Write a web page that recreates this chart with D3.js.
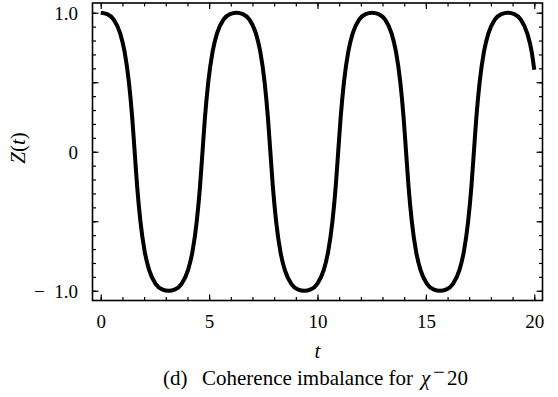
<!DOCTYPE html>
<html>
<head>
<meta charset="utf-8">
<script src="https://cdn.jsdelivr.net/npm/d3@7"></script>
</head>
<body style="margin:0;background:#fff">
<script>
// Time samples of the coherence imbalance curve
const tValues = [
  0, 0.3, 0.6, 0.9, 1.1, 1.3, 1.45, 1.565, 1.68, 1.83, 2.03, 2.23, 2.53, 2.83, 3.13,
  3.43, 3.73, 4.03, 4.23, 4.43, 4.58, 4.695, 4.81, 4.96, 5.16, 5.36, 5.66, 5.96, 6.26,
  6.56, 6.86, 7.16, 7.36, 7.56, 7.71, 7.825, 7.94, 8.09, 8.29, 8.49, 8.79, 9.09, 9.39,
  9.69, 9.99, 10.29, 10.49, 10.69, 10.84, 10.955, 11.07, 11.22, 11.42, 11.62, 11.92, 12.22, 12.52,
  12.82, 13.12, 13.42, 13.62, 13.82, 13.97, 14.085, 14.2, 14.35, 14.55, 14.75, 15.05, 15.35, 15.65,
  15.95, 16.25, 16.55, 16.75, 16.95, 17.1, 17.215, 17.33, 17.48, 17.68, 17.88, 18.18, 18.48, 18.78,
  19.08, 19.38, 19.68, 19.88, 20.0
];
const zValues = [
  1, 0.99, 0.95, 0.85, 0.72, 0.5, 0.25, 0, -0.25, -0.5, -0.72, -0.85, -0.95, -0.99, -1,
  -0.99, -0.95, -0.85, -0.72, -0.5, -0.25, 0, 0.25, 0.5, 0.72, 0.85, 0.95, 0.99, 1,
  0.99, 0.95, 0.85, 0.72, 0.5, 0.25, 0, -0.25, -0.5, -0.72, -0.85, -0.95, -0.99, -1,
  -0.99, -0.95, -0.85, -0.72, -0.5, -0.25, 0, 0.25, 0.5, 0.72, 0.85, 0.95, 0.99, 1,
  0.99, 0.95, 0.85, 0.72, 0.5, 0.25, 0, -0.25, -0.5, -0.72, -0.85, -0.95, -0.99, -1,
  -0.99, -0.95, -0.85, -0.72, -0.5, -0.25, 0, 0.25, 0.5, 0.72, 0.85, 0.95, 0.99, 1,
  0.99, 0.95, 0.85, 0.72, 0.59
];

// Axis ticks and labels
const xMajorTicks = [0, 5, 10, 15, 20];
const xMajorLabels = ["0", "5", "10", "15", "20"];
const xMinorTicks = d3.range(0, 21, 1);
const yMajorTicks = [-1, -0.5, 0, 0.5, 1];
const yLabelTicks = [-1, 0, 1];
const yLabels = ["\u2212\u20021.0", "0", "1.0"];
const yMinorTicks = d3.range(-10, 11, 1).map(d => d / 10);

const W = 558, H = 397;
const frame = { left: 92.5, right: 542.5, top: 3, bottom: 300.5 };
const ROMAN = "'Liberation Serif', 'Times New Roman', Tinos";

// apply the roman face with top priority so no inherited rule wins
function roman(sel) {
  sel.attr("font-family", ROMAN).style("font-family", ROMAN, "important");
  return sel;
}

const svg = d3.select("body").append("svg")
  .attr("width", W).attr("height", H)
  .style("display", "block")
  .call(roman);

const x = d3.scaleLinear().domain([-0.38, 20.38]).range([frame.left, frame.right]);
const y = d3.scaleLinear().domain([-1.07, 1.07]).range([frame.bottom, frame.top]);

const minorLen = 3.5, majorLen = 6;

function styleAxis(g) {
  g.call(roman);
  g.select(".domain").remove();
  g.selectAll(".tick line").attr("stroke", "#000").attr("stroke-width", 1.2);
  g.selectAll(".tick text").call(roman).attr("fill", "#000");
}

// bottom axis: minor and major ticks pointing inward, labels below
svg.append("g").attr("transform", `translate(0,${frame.bottom})`)
  .call(d3.axisBottom(x).tickValues(xMinorTicks).tickSize(-minorLen).tickFormat(""))
  .call(styleAxis);
const xb = svg.append("g").attr("transform", `translate(0,${frame.bottom})`)
  .call(d3.axisBottom(x).tickValues(xMajorTicks).tickSize(-majorLen)
    .tickFormat((d, i) => xMajorLabels[i]))
  .call(styleAxis);
xb.attr("font-size", 19);
xb.selectAll(".tick text").attr("y", 27.5).attr("dy", 0).style("font-size", "19px");

// top axis ticks
svg.append("g").attr("transform", `translate(0,${frame.top})`)
  .call(d3.axisTop(x).tickValues(xMinorTicks).tickSize(-minorLen).tickFormat(""))
  .call(styleAxis);
svg.append("g").attr("transform", `translate(0,${frame.top})`)
  .call(d3.axisTop(x).tickValues(xMajorTicks).tickSize(-majorLen).tickFormat(""))
  .call(styleAxis);

// left axis
svg.append("g").attr("transform", `translate(${frame.left},0)`)
  .call(d3.axisLeft(y).tickValues(yMinorTicks).tickSize(-minorLen).tickFormat(""))
  .call(styleAxis);
svg.append("g").attr("transform", `translate(${frame.left},0)`)
  .call(d3.axisLeft(y).tickValues(yMajorTicks).tickSize(-majorLen).tickFormat(""))
  .call(styleAxis);
const yl = svg.append("g").attr("transform", `translate(${frame.left},0)`)
  .call(d3.axisLeft(y).tickValues(yLabelTicks).tickSize(0).tickPadding(14.5)
    .tickFormat((d, i) => yLabels[i]))
  .call(styleAxis);
yl.attr("font-size", 19);
yl.selectAll(".tick text").attr("dy", "0.34em").style("font-size", "19px");

// right axis
svg.append("g").attr("transform", `translate(${frame.right},0)`)
  .call(d3.axisRight(y).tickValues(yMinorTicks).tickSize(-minorLen).tickFormat(""))
  .call(styleAxis);
svg.append("g").attr("transform", `translate(${frame.right},0)`)
  .call(d3.axisRight(y).tickValues(yMajorTicks).tickSize(-majorLen).tickFormat(""))
  .call(styleAxis);

// plot frame
svg.append("rect")
  .attr("x", frame.left).attr("y", frame.top)
  .attr("width", frame.right - frame.left).attr("height", frame.bottom - frame.top)
  .attr("fill", "none").attr("stroke", "#000").attr("stroke-width", 1.6);

// Z(t) curve
const points = tValues.map((t, i) => [t, zValues[i]]);
const line = d3.line()
  .x(d => x(d[0])).y(d => y(d[1]))
  .curve(d3.curveMonotoneX);
svg.append("path")
  .datum(points)
  .attr("d", line)
  .attr("fill", "none")
  .attr("stroke", "#000")
  .attr("stroke-width", 4)
  .attr("stroke-linejoin", "round")
  .attr("stroke-linecap", "butt");

// axis titles
svg.append("text")
  .attr("x", x(10)).attr("y", 358)
  .attr("text-anchor", "middle")
  .call(roman)
  .attr("font-size", 21)
  .attr("font-style", "italic")
  .text("t");

const yTitle = svg.append("text")
  .attr("transform", "translate(25,148) rotate(-90)")
  .attr("text-anchor", "middle")
  .call(roman)
  .attr("font-size", 21);
yTitle.append("tspan").attr("font-style", "italic").text("Z");
yTitle.append("tspan").text("(");
yTitle.append("tspan").attr("font-style", "italic").text("t");
yTitle.append("tspan").text(")");

// caption
const cap = svg.append("text")
  .attr("y", 385)
  .call(roman)
  .attr("font-size", 21);
cap.append("tspan").attr("x", 163).text("(d)");
cap.append("tspan").attr("x", 202).text("Coherence imbalance for");
cap.append("tspan").attr("x", 421).attr("font-style", "italic").text("\u03C7");
cap.append("tspan").attr("x", 433).attr("dy", -6).text("\u2212");
cap.append("tspan").attr("x", 447).attr("dy", 6).text("20");
</script>
</body>
</html>
